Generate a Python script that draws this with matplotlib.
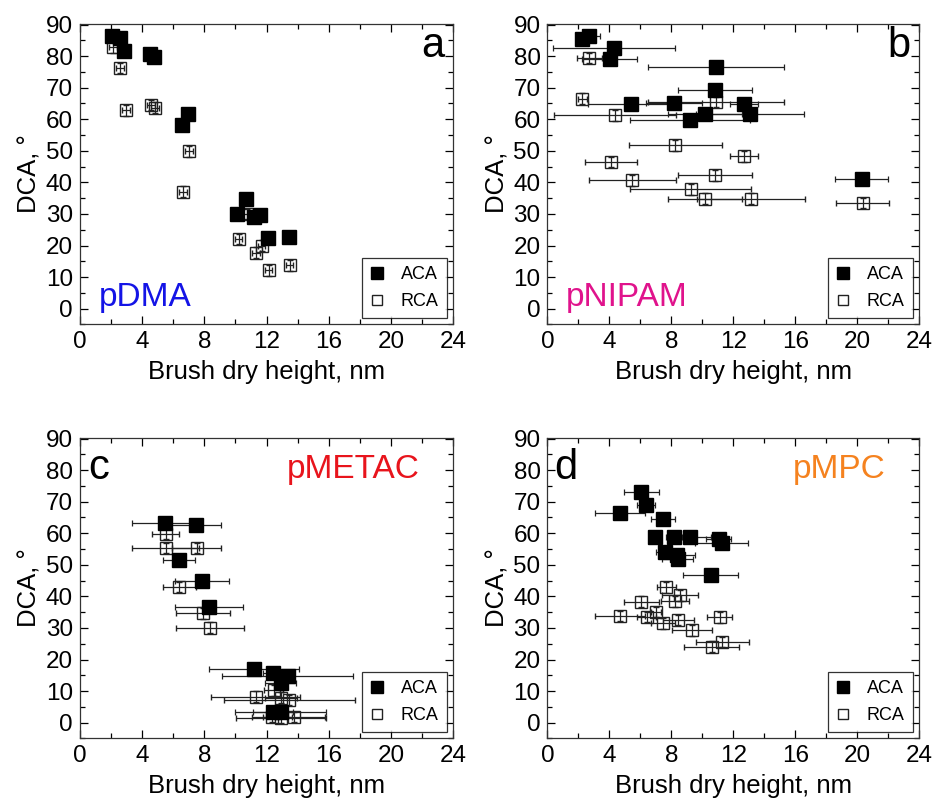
import numpy as np
import matplotlib
matplotlib.use("Agg")
from matplotlib import pyplot as plt
from matplotlib.ticker import MultipleLocator
from matplotlib.lines import Line2D

plt.rcParams['font.family'] = ['Liberation Sans', 'DejaVu Sans']

# panel a - pDMA
dma_aca_x = [2.08, 2.57, 2.85, 4.52, 4.78, 6.97, 6.54, 10.7, 10.12, 11.2, 11.58, 12.07, 13.42]
dma_aca_y = [86.5, 85.7, 81.7, 80.8, 79.7, 61.8, 58.2, 34.8, 30.0, 29.0, 29.8, 22.4, 22.7]
dma_rca_x = [2.12, 2.59, 2.94, 4.57, 4.82, 7.01, 6.62, 10.76, 10.2, 11.68, 11.3, 12.13, 13.48]
dma_rca_y = [82.8, 76.2, 62.8, 64.5, 63.7, 49.8, 37.1, 30.0, 22.1, 20.0, 17.7, 12.2, 13.7]
dma_xerr = [0.25] * 13

# panel b - pNIPAM
nip_aca_x = [2.21, 2.66, 4.30, 4.02, 10.86, 10.8, 5.4, 8.19, 9.2, 10.15, 12.66, 13.08, 20.28]
nip_aca_y = [85.5, 86.4, 82.6, 79.2, 76.6, 69.3, 64.9, 65.2, 59.8, 61.7, 64.9, 61.7, 41.1]
nip_aca_xerr = [0.3, 0.75, 3.96, 1.77, 4.4, 2.4, 2.8, 1.8, 3.9, 2.4, 0.9, 3.5, 1.7]
nip_rca_x = [2.71, 2.24, 10.88, 4.37, 8.26, 4.11, 12.69, 10.82, 5.48, 9.25, 10.17, 13.14, 20.35]
nip_rca_y = [79.4, 66.5, 65.5, 61.2, 51.7, 46.5, 48.3, 42.3, 40.7, 37.8, 34.8, 34.9, 33.5]
nip_rca_xerr = [0.8, 0.3, 4.4, 3.95, 3.0, 1.7, 0.9, 2.4, 2.8, 3.9, 2.4, 3.5, 1.7]

# panel c - pMETAC
met_aca_x = [5.47, 7.44, 6.37, 7.85, 8.3, 11.2, 12.4, 13.35, 12.9, 12.4, 12.9]
met_aca_y = [63.1, 62.5, 51.4, 44.8, 36.7, 17.1, 15.6, 14.8, 12.7, 3.5, 3.5]
met_aca_xerr = [2.15, 1.63, 1.05, 1.75, 2.2, 2.87, 0.6, 4.2, 1.0, 1.3, 2.9]
met_rca_x = [5.51, 5.51, 7.5, 6.39, 7.91, 8.38, 11.3, 12.45, 12.93, 13.46, 12.35, 12.95, 13.75]
met_rca_y = [59.9, 55.3, 55.3, 43.0, 34.6, 30.1, 8.2, 10.3, 7.9, 7.2, 1.8, 1.6, 1.8]
met_rca_xerr = [0.85, 2.15, 1.6, 1.05, 1.75, 2.2, 2.87, 0.6, 1.0, 4.2, 1.3, 2.9, 2.0]

# panel d - pMPC
mpc_aca_x = [6.05, 6.37, 4.69, 7.44, 6.97, 8.17, 9.23, 11.05, 11.25, 7.61, 8.39, 8.41, 10.54]
mpc_aca_y = [73.0, 68.9, 66.4, 64.5, 58.7, 58.7, 58.7, 58.1, 56.8, 54.1, 53.1, 51.8, 46.7]
mpc_aca_xerr = [1.12, 0.6, 1.6, 0.77, 0.3, 0.5, 1.3, 0.82, 1.7, 0.6, 1.15, 1.0, 1.78]
mpc_rca_x = [7.68, 8.56, 8.24, 6.05, 7.01, 4.69, 6.41, 11.12, 8.45, 7.48, 9.31, 11.29, 10.6]
mpc_rca_y = [42.9, 40.4, 38.4, 38.3, 35.1, 33.8, 33.5, 33.4, 32.5, 31.5, 29.3, 25.6, 24.1]
mpc_rca_xerr = [0.6, 1.15, 0.9, 1.12, 0.3, 1.6, 0.6, 0.8, 1.0, 0.77, 1.3, 1.7, 1.78]

yerr = 1.7

panels = [
    ('a', 'pDMA', '#1414e6', dma_aca_x, dma_aca_y, dma_xerr, dma_rca_x, dma_rca_y, dma_xerr),
    ('b', 'pNIPAM', '#e0138c', nip_aca_x, nip_aca_y, nip_aca_xerr, nip_rca_x, nip_rca_y, nip_rca_xerr),
    ('c', 'pMETAC', '#e8141c', met_aca_x, met_aca_y, met_aca_xerr, met_rca_x, met_rca_y, met_rca_xerr),
    ('d', 'pMPC', '#f5821f', mpc_aca_x, mpc_aca_y, mpc_aca_xerr, mpc_rca_x, mpc_rca_y, mpc_rca_xerr),
]

fig = plt.figure(figsize=(9.33, 7.98), dpi=100)
rects = [
    [0.0857, 0.5934, 0.4, 0.377],
    [0.5868, 0.5934, 0.3985, 0.377],
    [0.0857, 0.0746, 0.4, 0.377],
    [0.5868, 0.0746, 0.3985, 0.377],
]

for rect, (letter, name, col, ax_x, ax_y, ax_e, rx, ry, re) in zip(rects, panels):
    ax = fig.add_axes(rect)
    ax.errorbar(rx, ry, xerr=re, yerr=yerr, fmt='s', ms=8.5, mfc='none', mec='#222222',
                mew=1.0, ecolor='#222222', elinewidth=0.9, capsize=2.5, capthick=0.9,
                zorder=2)
    ax.errorbar(ax_x, ax_y, xerr=ax_e, yerr=yerr, fmt='s', ms=9.5, mfc='black', mec='black',
                ecolor='#222222', elinewidth=0.9, capsize=2.5, capthick=0.9,
                zorder=3)

    ax.set_xlim(0, 24)
    ax.set_ylim(-5, 90.3)
    ax.xaxis.set_major_locator(MultipleLocator(4))
    ax.xaxis.set_minor_locator(MultipleLocator(2))
    ax.yaxis.set_major_locator(MultipleLocator(10))
    ax.yaxis.set_minor_locator(MultipleLocator(5))
    ax.tick_params(which='both', direction='in', top=True, right=True, labelsize=17.5, pad=5)
    ax.tick_params(which='major', length=6, width=0.9)
    ax.tick_params(which='minor', length=3.5, width=0.9)
    for s in ax.spines.values():
        s.set_linewidth(0.9)
        s.set_color('#333333')
    ax.set_xlabel('Brush dry height, nm', fontsize=18.5, labelpad=5)
    ax.set_ylabel('DCA, °', fontsize=18.5, labelpad=3)

    handles = [
        Line2D([], [], ls='none', marker='s', ms=8, mfc='black', mec='black'),
        Line2D([], [], ls='none', marker='s', ms=7, mfc='white', mec='#222222', mew=1.0),
    ]
    leg = ax.legend(handles, ['ACA', 'RCA'], loc='lower right', fontsize=13, frameon=True,
                    fancybox=False, edgecolor='black', handlelength=0.8, handletextpad=0.9,
                    borderpad=0.45, labelspacing=0.55, borderaxespad=0.35)
    leg.get_frame().set_linewidth(0.9)

    if letter in ('a', 'b'):
        ax.text(0.945, 0.925, letter, transform=ax.transAxes, fontsize=30,
                ha='center', va='center')
        ax.text(0.05, 0.09, name, transform=ax.transAxes, fontsize=24, color=col,
                ha='left', va='center')
    else:
        ax.text(0.05, 0.9, letter, transform=ax.transAxes, fontsize=30,
                ha='center', va='center')
        ax.text(0.91, 0.895, name, transform=ax.transAxes, fontsize=24, color=col,
                ha='right', va='center')

fig.savefig('out.png', dpi=100)
